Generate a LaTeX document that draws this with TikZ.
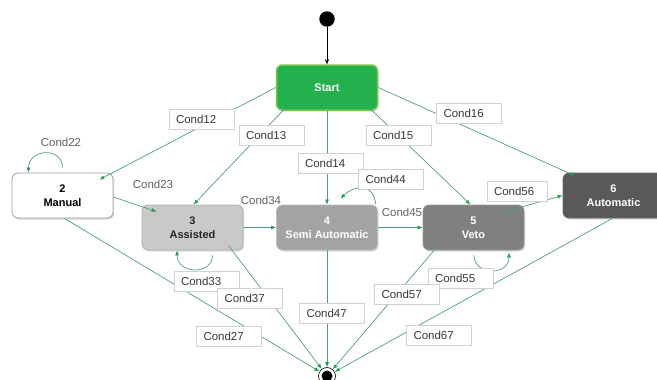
\documentclass[tikz,border=0pt]{standalone}
\usepackage{fontspec}
\setmainfont{Liberation Sans}
\usetikzlibrary{arrows.meta,shadows,calc}
\definecolor{edgec}{HTML}{4E9E78}
\definecolor{tipc}{HTML}{1E9E50}
\definecolor{startfill}{HTML}{22B14C}
\definecolor{startdraw}{HTML}{7CC24E}
\begin{document}
\begin{tikzpicture}[x=1pt,y=-1pt,
  state/.style={draw, rounded corners=6pt, minimum width=101pt, minimum height=45pt, align=center,
    font=\fontsize{11}{14}\selectfont\bfseries, line width=0.8pt,
    drop shadow={shadow xshift=1.2pt, shadow yshift=-1.5pt, opacity=0.3}},
  edge/.style={draw=edgec, line width=0.7pt, -{Latex[length=5pt,width=4pt,color=tipc]}},
  lbl/.style={draw=black!18, fill=white, line width=0.6pt, font=\fontsize{11.5}{13}\selectfont, text=black!78,
    text width=51pt, align=left, inner xsep=7pt, minimum height=20pt, inner ysep=0pt},
  plainlbl/.style={font=\fontsize{11.5}{13}\selectfont, text=black!62, inner sep=0pt}]
\useasboundingbox (0,0) rectangle (657,380);

% states
\node[state, fill=startfill, draw=startdraw, line width=1.5pt, text=white] (s1) at (327,87.5) {Start};
\node[state, fill=white, draw=black!38, text=black] (s2) at (62.5,195.5) {2\\Manual};
\node[state, fill=black!21, draw=black!31, text=black!85] (s3) at (192.5,227.5) {3\\Assisted};
\node[state, fill=black!36, draw=black!26, text=white] (s4) at (327,227.5) {4\\Semi Automatic};
\node[state, fill=black!50, draw=black!40, text=white] (s5) at (473.5,227.5) {5\\Veto};
\node[state, fill=black!65, draw=black!58, text=white] (s6) at (613.5,195.5) {6\\Automatic};

% initial and final
\node[circle, fill=black, minimum size=15.5pt, inner sep=0pt] (init) at (327,19) {};
\node[circle, draw=black, line width=0.6pt, minimum size=17pt, inner sep=0pt] (fin) at (327,376) {};
\fill (fin.center) circle (5.5pt);

\draw[black, line width=0.6pt, -{Stealth[length=5pt,width=4pt]}] (init) -- (s1);

% edges
\draw[edge] (s1.west) -- ($(s2.north east)+(-14,7)$);
\draw[edge] ($(s1.south west)+(9,-2)$) -- ($(s3.north)+(1,0)$);
\draw[edge] (s1.south) -- (s4.north);
\draw[edge] ($(s1.south east)+(-8,-2)$) -- ($(s5.north)+(-3,0)$);
\draw[edge] (s1.east) -- ($(s6.north west)+(12,3)$);

\draw[edge] ($(s2.north)+(0,-5)$) .. controls +(0,-21) and +(0,-24) .. ($(s2.north)+(-34,0)$);
\draw[edge] ($(s2.east)+(0,1.5)$) -- ($(s3.north west)+(15,7)$);
\draw[edge] ($(s2.south)+(2,0)$) -- (fin);

\draw[edge] (s3.east) -- (s4.west);
\draw[edge] ($(s3.south)+(20,5)$) .. controls +(0,20) and +(0,24) .. ($(s3.south)+(-15.5,0)$);
\draw[edge] ($(s3.south east)+(-15,-5)$) -- (fin);

\draw[edge] ($(s4.north east)+(-2,0)$) .. controls +(-3,-24) and +(12,-12) .. ($(s4.north)+(13.5,-6)$);
\draw[edge] (s4.east) -- (s5.west);
\draw[edge] (s4.south) -- (fin);

\draw[edge] ($(s5.south)+(0.5,5)$) .. controls +(0,20) and +(0,24) .. ($(s5.south)+(35.5,2)$);
\draw[edge] ($(s5.north east)+(-23,8)$) -- (s6.west);
\draw[edge] ($(s5.south west)+(14,-3)$) -- (fin);

\draw[edge] ($(s6.south)+(-1,0)$) -- (fin);

% labels
\node[plainlbl] (l22) at (61,142) {Cond22};
\node[plainlbl] (l23) at (153,184) {Cond23};
\node[plainlbl] (l34) at (261,200) {Cond34};
\node[plainlbl] (l45) at (402,212) {Cond45};

\node[lbl] (l12) at (201.5,119.5) {Cond12};
\node[lbl] (l13) at (271.5,135.5) {Cond13};
\node[lbl] (l15) at (398.5,135.5) {Cond15};
\node[lbl] (l16) at (469,113.5) {Cond16};
\node[lbl] (l14) at (330.5,163) {Cond14};
\node[lbl] (l44) at (391,179.5) {Cond44};
\node[lbl, text width=46pt] (l56) at (517,191) {Cond56};
\node[lbl] (l33) at (206.5,281.5) {Cond33};
\node[lbl] (l37) at (250,298) {Cond37};
\node[lbl] (l27) at (229,336) {Cond27};
\node[lbl] (l47) at (332,313) {Cond47};
\node[lbl] (l55) at (460.5,278) {Cond55};
\node[lbl] (l57) at (407,294) {Cond57};
\node[lbl] (l67) at (439,335.5) {Cond67};
\end{tikzpicture}
\end{document}
